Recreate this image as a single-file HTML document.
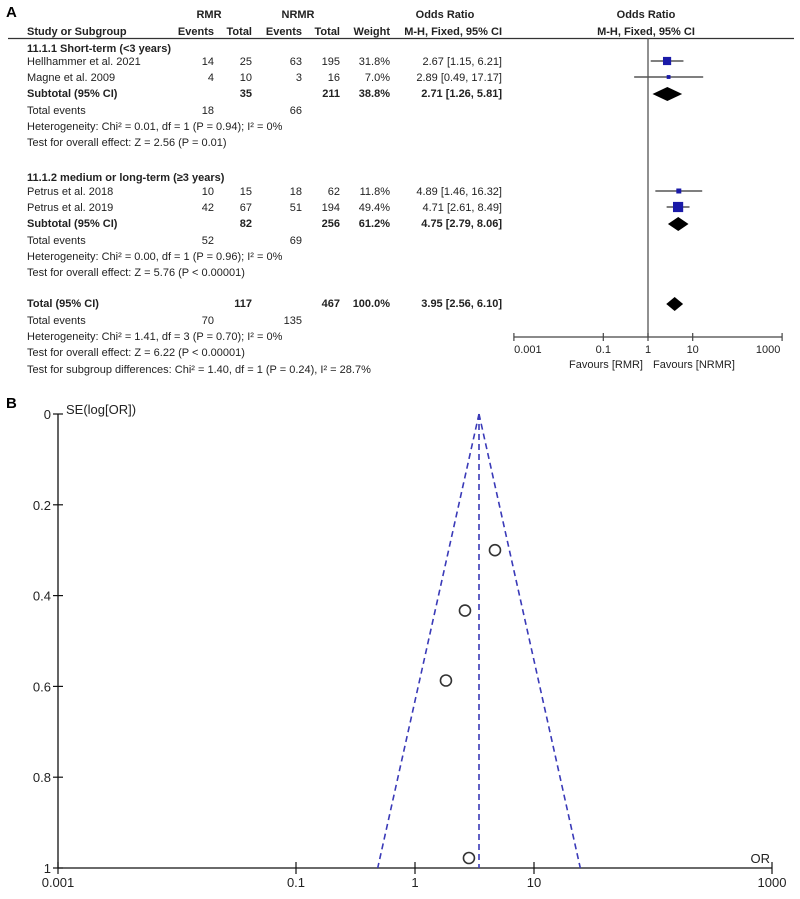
<!DOCTYPE html>
<html><head><meta charset="utf-8">
<style>
html,body{margin:0;padding:0;background:#fff;}
svg{display:block;font-family:"Liberation Sans",Arial,sans-serif;}
</style></head>
<body>
<svg id="fig" width="800" height="899" viewBox="0 0 800 899" xmlns="http://www.w3.org/2000/svg">
<g id="panelA" font-size="11" fill="#222">
<text x="6" y="17" font-size="15" font-weight="bold" fill="#000">A</text>
<text x="209" y="18" text-anchor="middle" font-weight="bold">RMR</text>
<text x="298" y="18" text-anchor="middle" font-weight="bold">NRMR</text>
<text x="445" y="18" text-anchor="middle" font-weight="bold">Odds Ratio</text>
<text x="646" y="18" text-anchor="middle" font-weight="bold">Odds Ratio</text>
<g font-weight="bold">
<text x="27" y="35">Study or Subgroup</text>
<text x="214" y="35" text-anchor="end">Events</text>
<text x="252" y="35" text-anchor="end">Total</text>
<text x="302" y="35" text-anchor="end">Events</text>
<text x="340" y="35" text-anchor="end">Total</text>
<text x="390" y="35" text-anchor="end">Weight</text>
<text x="502" y="35" text-anchor="end">M-H, Fixed, 95% CI</text>
<text x="646" y="35" text-anchor="middle">M-H, Fixed, 95% CI</text>
</g>
<line x1="8" y1="38.5" x2="794" y2="38.5" stroke="#333" stroke-width="1.2"/>
<g id="rows"></g>
<g id="forest"></g>
</g>
<g id="panelB" font-size="13" fill="#222">
<text x="6" y="408" font-size="15" font-weight="bold" fill="#000">B</text>
<text x="66" y="414">SE(log[OR])</text>
<text x="770" y="863" text-anchor="end">OR</text>
<g id="funnel"></g>
</g>
</svg>
<script>
// ---- Forest plot data ----
const studyNames = ["Hellhammer et al. 2021","Magne et al. 2009","Petrus et al. 2018","Petrus et al. 2019"];
const rmrEvents = [14,4,10,42];
const rmrTotal = [25,10,15,67];
const nrmrEvents = [63,3,18,51];
const nrmrTotal = [195,16,62,194];
const weights = [31.8,7.0,11.8,49.4];
const orValues = [2.67,2.89,4.89,4.71];
const ciLow = [1.15,0.49,1.46,2.61];
const ciHigh = [6.21,17.17,16.32,8.49];
const subtotalOR = [2.71,4.75];
const subtotalLow = [1.26,2.79];
const subtotalHigh = [5.81,8.06];
const totalOR = [3.95];
const totalLow = [2.56];
const totalHigh = [6.10];
const forestTicks = [0.001,0.1,1,10,1000];
const forestTickLabels = ["0.001","0.1","1","10","1000"];
// ---- Funnel plot data ----
const funnelOR = [4.7,2.63,1.82,2.84];
const funnelSE = [0.30,0.433,0.587,0.978];
const funnelCenter = [3.45];
const seTicks = [0,0.2,0.4,0.6,0.8,1];
const seTickLabels = ["0","0.2","0.4","0.6","0.8","1"];
const orTicks = [0.001,0.1,1,10,1000];
const orTickLabels = ["0.001","0.1","1","10","1000"];

const NS="http://www.w3.org/2000/svg";
function mk(tag,attrs,parent,txt){const e=document.createElementNS(NS,tag);for(const k in attrs)e.setAttribute(k,attrs[k]);if(txt!==undefined)e.textContent=txt;parent.appendChild(e);return e;}

// forest x scale
const fx = v => 648 + Math.log10(v)*44.7;
const rows=document.getElementById('rows');
const forest=document.getElementById('forest');
function T(x,y,s,opt){const e=mk('text',Object.assign({x:x,y:y},opt||{}),rows,s);return e;}
const studyY=[65,81,195,211];
const f2=v=>v.toFixed(2);
// group headings
let h=T(27,52,"11.1.1 Short-term (<3 years)",{"font-weight":"bold"});


h=T(27,181,"11.1.2 medium or long-term (≥3 years)",{"font-weight":"bold"});


for(let i=0;i<studyNames.length;i++){
  const y=studyY[i];
  const g=mk('g',{},rows);
  
  
  mk('text',{x:27,y:y},g,studyNames[i]);
  mk('text',{x:214,y:y,'text-anchor':'end'},g,rmrEvents[i]);
  mk('text',{x:252,y:y,'text-anchor':'end'},g,rmrTotal[i]);
  mk('text',{x:302,y:y,'text-anchor':'end'},g,nrmrEvents[i]);
  mk('text',{x:340,y:y,'text-anchor':'end'},g,nrmrTotal[i]);
  mk('text',{x:390,y:y,'text-anchor':'end'},g,weights[i].toFixed(1)+"%");
  mk('text',{x:502,y:y,'text-anchor':'end'},g,f2(orValues[i])+" ["+f2(ciLow[i])+", "+f2(ciHigh[i])+"]");
  // marks
  const cy=y-4;
  const ci=mk('line',{x1:fx(ciLow[i]),x2:fx(ciHigh[i]),y1:cy,y2:cy,stroke:'#333','stroke-width':1.2},forest);
  
  
  const s=Math.max(3,Math.sqrt(weights[i])*1.45);
  const sq=mk('rect',{x:fx(orValues[i])-s/2,y:cy-s/2,width:s,height:s,fill:'#1a1aa8'},forest);
  
  
}
const subY=[97,227], subTot1=[35,82], subTot2=[211,256], subW=[38.8,61.2];
const subEv1=[18,52], subEv2=[66,69];
const subHet=["Heterogeneity: Chi² = 0.01, df = 1 (P = 0.94); I² = 0%","Heterogeneity: Chi² = 0.00, df = 1 (P = 0.96); I² = 0%"];
const subTest=["Test for overall effect: Z = 2.56 (P = 0.01)","Test for overall effect: Z = 5.76 (P < 0.00001)"];
function diamond(or,lo,hi,cy,name){
  const d=mk('polygon',{points:`${fx(lo)},${cy} ${fx(or)},${cy-7} ${fx(hi)},${cy} ${fx(or)},${cy+7}`,fill:'#000'},forest);
  
  
}
for(let k=0;k<2;k++){
  const y=subY[k];
  const g=mk('g',{'font-weight':'bold'},rows);
  
  
  mk('text',{x:27,y:y},g,"Subtotal (95% CI)");
  mk('text',{x:252,y:y,'text-anchor':'end'},g,subTot1[k]);
  mk('text',{x:340,y:y,'text-anchor':'end'},g,subTot2[k]);
  mk('text',{x:390,y:y,'text-anchor':'end'},g,subW[k].toFixed(1)+"%");
  mk('text',{x:502,y:y,'text-anchor':'end'},g,f2(subtotalOR[k])+" ["+f2(subtotalLow[k])+", "+f2(subtotalHigh[k])+"]");
  T(27,y+17,"Total events");T(214,y+17,subEv1[k],{'text-anchor':'end'});T(302,y+17,subEv2[k],{'text-anchor':'end'});
  T(27,y+33,subHet[k]);T(27,y+49,subTest[k]);
  diamond(subtotalOR[k],subtotalLow[k],subtotalHigh[k],y-3,'subtotal-diamond');
}
{
  const y=307;
  const g=mk('g',{'font-weight':'bold'},rows);
  
  
  mk('text',{x:27,y:y},g,"Total (95% CI)");
  mk('text',{x:252,y:y,'text-anchor':'end'},g,"117");
  mk('text',{x:340,y:y,'text-anchor':'end'},g,"467");
  mk('text',{x:390,y:y,'text-anchor':'end'},g,"100.0%");
  mk('text',{x:502,y:y,'text-anchor':'end'},g,f2(totalOR[0])+" ["+f2(totalLow[0])+", "+f2(totalHigh[0])+"]");
  T(27,324,"Total events");T(214,324,"70",{'text-anchor':'end'});T(302,324,"135",{'text-anchor':'end'});
  T(27,340,"Heterogeneity: Chi² = 1.41, df = 3 (P = 0.70); I² = 0%");
  T(27,356,"Test for overall effect: Z = 6.22 (P < 0.00001)");
  T(27,373,"Test for subgroup differences: Chi² = 1.40, df = 1 (P = 0.24), I² = 28.7%");
  diamond(totalOR[0],totalLow[0],totalHigh[0],y-3,'total-diamond');
}
// forest axes
let ln=mk('line',{x1:648,x2:648,y1:38,y2:337,stroke:'#555','stroke-width':1.3},forest);


ln=mk('line',{x1:fx(0.001),x2:fx(1000),y1:337,y2:337,stroke:'#444','stroke-width':1.2},forest);


for(let i=0;i<forestTicks.length;i++){
  const x=fx(forestTicks[i]);
  const t=mk('line',{x1:x,x2:x,y1:333,y2:341,stroke:'#444','stroke-width':1.2},forest);
  
  
  const l=mk('text',{x:x-(i==0?-14:(i==4?14:0)),y:353,'text-anchor':'middle','font-size':'11'},forest,forestTickLabels[i]);
  
  
}
let fl=mk('text',{x:643,y:368,'text-anchor':'end','font-size':'11'},forest,"Favours [RMR]");


fl=mk('text',{x:653,y:368,'font-size':'11'},forest,"Favours [NRMR]");



// ---- Funnel ----
const funnel=document.getElementById('funnel');
const gx = v => 415 + Math.log10(v)*119;
const gy = se => 414 + se*454;
let ax=mk('line',{x1:58,x2:58,y1:gy(0),y2:gy(1),stroke:'#111','stroke-width':1.3},funnel);


ax=mk('line',{x1:58,x2:gx(1000),y1:gy(1),y2:gy(1),stroke:'#111','stroke-width':1.3},funnel);


for(let i=0;i<seTicks.length;i++){
  const y=gy(seTicks[i]);
  const t=mk('line',{x1:53,x2:63,y1:y,y2:y,stroke:'#111','stroke-width':1.2},funnel);
  
  
  const l=mk('text',{x:51,y:y+5,'text-anchor':'end'},funnel,seTickLabels[i]);
  
  
}
for(let i=0;i<orTicks.length;i++){
  const x=gx(orTicks[i]);
  const t=mk('line',{x1:x,x2:x,y1:gy(1)-6,y2:gy(1)+6,stroke:'#111','stroke-width':1.2},funnel);
  
  
  const l=mk('text',{x:x,y:gy(1)+19,'text-anchor':'middle'},funnel,orTickLabels[i]);
  
  
}
const c=funnelCenter[0];
const half=1.96/Math.LN10;
const dash={stroke:'#3a3ab8','stroke-width':1.6,'stroke-dasharray':'6,4',fill:'none'};
let d=mk('line',Object.assign({x1:gx(c),x2:gx(c),y1:gy(0),y2:gy(1)},dash),funnel);


d=mk('line',Object.assign({x1:gx(c),y1:gy(0),x2:gx(c*Math.pow(10,-half)),y2:gy(1)},dash),funnel);


d=mk('line',Object.assign({x1:gx(c),y1:gy(0),x2:gx(c*Math.pow(10,half)),y2:gy(1)},dash),funnel);


for(let i=0;i<funnelOR.length;i++){
  const p=mk('circle',{cx:gx(funnelOR[i]),cy:gy(funnelSE[i]),r:5.5,fill:'none',stroke:'#333','stroke-width':1.6},funnel);
  
  
}
</script>
</body></html>
